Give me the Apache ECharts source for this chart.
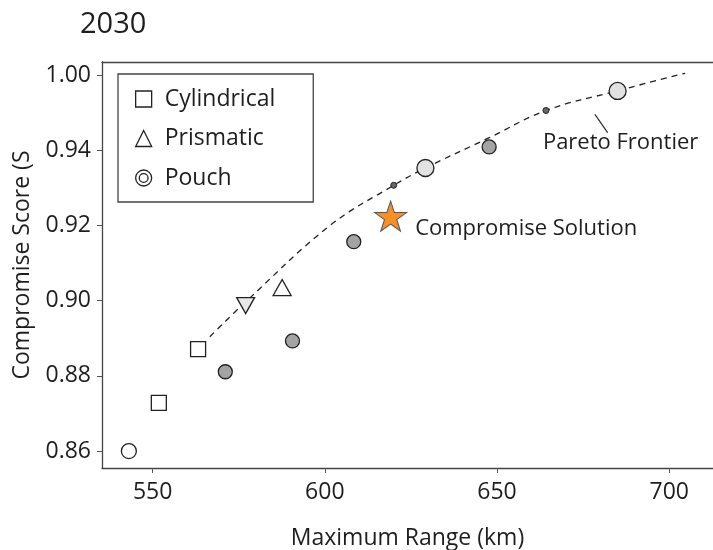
<!DOCTYPE html>
<html>
<head>
<meta charset="utf-8">
<script src="https://cdn.jsdelivr.net/npm/echarts@6/dist/echarts.min.js"></script>
<style>
html,body{margin:0;padding:0;background:#fff;}
#chart{width:713px;height:550px;}
</style>
</head>
<body>
<div id="chart"></div>
<script>
// ---- data ----
var titleText = '2030';
var xTickValues = [550, 600, 650, 700];
var yTickValues = [0.86, 0.88, 0.90, 0.92, 0.94, 0.96];
var yTickLabels = ['0.86', '0.88', '0.90', '0.92', '0.94', '1.00'];

var cylindrical = [[551.8, 0.8728], [563.2, 0.8871]];
var prismaticUp = [[587.6, 0.9035]];
var prismaticDown = [[577.0, 0.8987]];
var pouchGray = [[571.1, 0.8811], [590.6, 0.8893], [608.4, 0.9157], [647.7, 0.9409]];
var pouchLight = [[629.2, 0.9353], [685.0, 0.9558]];
var pouchSmall = [[620.0, 0.9307], [664.2, 0.9506]];
var baselinePoint = [[543.1, 0.8600]];
var compromise = [[619.1, 0.9225]];

var frontierX = [566.6, 576.8, 601.5, 620.0, 629.2, 647.6, 664.2, 684.8, 704.6];
var frontierY = [0.8904, 0.8995, 0.9200, 0.9307, 0.9353, 0.9433, 0.9506, 0.9558, 0.9605];

var paretoLeader = [[678.4, 0.9496], [682.1, 0.9447]];

// ---- chart ----
var font = '"Open Sans", "Noto Sans", sans-serif';
var textColor = '#1e1e1e';
var frontier = frontierX.map(function (x, i) { return [x, frontierY[i]]; });

var ringPath = 'path://M0,10a10,10 0 1,0 20,0a10,10 0 1,0 -20,0z M4.5,10a5.5,5.5 0 1,0 11,0a5.5,5.5 0 1,0 -11,0z';
var frameLine = {color: '#444', width: 1.3};

function markStyle(fill, bw) {
  return {color: fill, borderColor: '#222', borderWidth: bw || 1.3, opacity: 1};
}

var chart = echarts.init(document.getElementById('chart'), null, {renderer: 'canvas'});
chart.setOption({
  animation: false,
  backgroundColor: '#fff',
  title: {
    text: titleText,
    left: 75,
    top: 5,
    textStyle: {fontFamily: font, fontSize: 29, fontWeight: 'normal', color: textColor}
  },
  grid: {
    left: 102, top: 62, right: 0, height: 406,
    outerBoundsMode: 'none',
    containLabel: false,
    show: false
  },
  legend: {
    orient: 'vertical',
    left: 118, top: 74,
    padding: [13, 38, 12, 17],
    borderColor: '#444', borderWidth: 1.3,
    itemWidth: 16, itemHeight: 16,
    itemGap: 15.5,
    textStyle: {fontFamily: font, fontSize: 23, color: textColor, lineHeight: 24, padding: [0, 0, 0, 8]},
    data: [
      {name: 'Cylindrical', icon: 'rect', itemStyle: {color: '#fff', borderColor: '#222', borderWidth: 1.3}},
      {name: 'Prismatic', icon: 'triangle', itemStyle: {color: '#fff', borderColor: '#222', borderWidth: 1.3}},
      {name: 'Pouch', icon: ringPath, itemStyle: {color: 'transparent', borderColor: '#222', borderWidth: 1.3}}
    ]
  },
  xAxis: [{
    type: 'value', min: 535.3, max: 712.7, position: 'bottom',
    name: 'Maximum Range (km)', nameLocation: 'middle', nameGap: 59,
    nameTextStyle: {fontFamily: font, fontSize: 23, color: textColor},
    axisLine: {show: true, onZero: false, lineStyle: frameLine},
    axisTick: {show: true, length: 5, customValues: xTickValues, lineStyle: {color: '#555'}},
    axisLabel: {customValues: xTickValues, margin: 13, fontFamily: font, fontSize: 23, color: textColor},
    splitLine: {show: false}
  }, {
    type: 'value', min: 535.3, max: 712.7, position: 'top',
    axisLine: {show: true, onZero: false, lineStyle: frameLine},
    axisTick: {show: false}, axisLabel: {show: false}, splitLine: {show: false}
  }],
  yAxis: {
    type: 'value', min: 0.8555, max: 0.9635,
    name: 'Compromise Score (S', nameLocation: 'middle', nameGap: 68,
    nameTextStyle: {fontFamily: font, fontSize: 23, color: textColor},
    axisLine: {show: true, onZero: false, lineStyle: frameLine},
    axisTick: {show: true, length: 5, customValues: yTickValues, lineStyle: {color: '#555'}},
    axisLabel: {
      customValues: yTickValues, margin: 11, fontFamily: font, fontSize: 23, color: textColor,
      formatter: function (v) {
        for (var i = 0; i < yTickValues.length; i++) {
          if (Math.abs(yTickValues[i] - v) < 1e-6) return yTickLabels[i];
        }
        return '';
      }
    },
    splitLine: {show: false}
  },
  series: [
    {
      name: 'Pareto Frontier', type: 'line', data: frontier, smooth: 0.4,
      symbol: 'none', z: 1,
      lineStyle: {color: '#222', width: 1.3, type: [6, 5]}
    },
    {
      name: 'Pareto Frontier label', type: 'scatter', data: [paretoLeader[1]],
      symbolSize: 0, z: 1, silent: true,
      itemStyle: {opacity: 1},
      label: {show: true, position: 'inside', offset: [13, 10], formatter: 'Pareto Frontier',
        fontFamily: font, fontSize: 22, color: textColor, opacity: 1},
      markLine: {
        silent: true, symbol: 'none', label: {show: false},
        lineStyle: {color: '#222', width: 1.2, type: 'solid', opacity: 1},
        data: [[{coord: paretoLeader[0]}, {coord: paretoLeader[1]}]]
      }
    },
    {
      name: 'Baseline', type: 'scatter', data: baselinePoint, symbol: 'circle', symbolSize: 15, z: 3,
      itemStyle: markStyle('#fff')
    },
    {
      name: 'Cylindrical', type: 'scatter', data: cylindrical, symbol: 'rect', symbolSize: 15, z: 3,
      itemStyle: markStyle('#fff')
    },
    {
      name: 'Prismatic', type: 'scatter', data: prismaticUp, symbol: 'triangle', symbolSize: [18, 16], z: 3,
      itemStyle: markStyle('#fff')
    },
    {
      name: 'Prismatic', type: 'scatter', data: prismaticDown, symbol: 'triangle', symbolRotate: 180,
      symbolSize: [18, 16], z: 3,
      itemStyle: markStyle('#e8e8e8')
    },
    {
      name: 'Pouch', type: 'scatter', data: pouchGray, symbol: 'circle', symbolSize: 14, z: 3,
      itemStyle: markStyle('#a3a3a3')
    },
    {
      name: 'Pouch', type: 'scatter', data: pouchLight, symbol: 'circle', symbolSize: 17, z: 3,
      itemStyle: markStyle('#e2e2e2')
    },
    {
      name: 'Pouch', type: 'scatter', data: pouchSmall, symbol: 'circle', symbolSize: 6, z: 3,
      itemStyle: markStyle('#666', 1)
    },
    {
      name: 'Compromise Solution', type: 'scatter', data: compromise, symbol: 'path://M50,0 L61.2,34.5 L97.6,34.5 L68.2,55.9 L79.4,90.5 L50,69.1 L20.6,90.5 L31.8,55.9 L2.4,34.5 L38.8,34.5 Z',
      symbolSize: [32, 30], z: 4,
      itemStyle: {color: '#f58f2a', borderColor: '#555', borderWidth: 1, opacity: 1},
      label: {show: true, position: 'right', distance: 8, offset: [0, 13], formatter: 'Compromise Solution',
        fontFamily: font, fontSize: 22, color: textColor, opacity: 1}
    }
  ]
});
</script>
</body>
</html>
